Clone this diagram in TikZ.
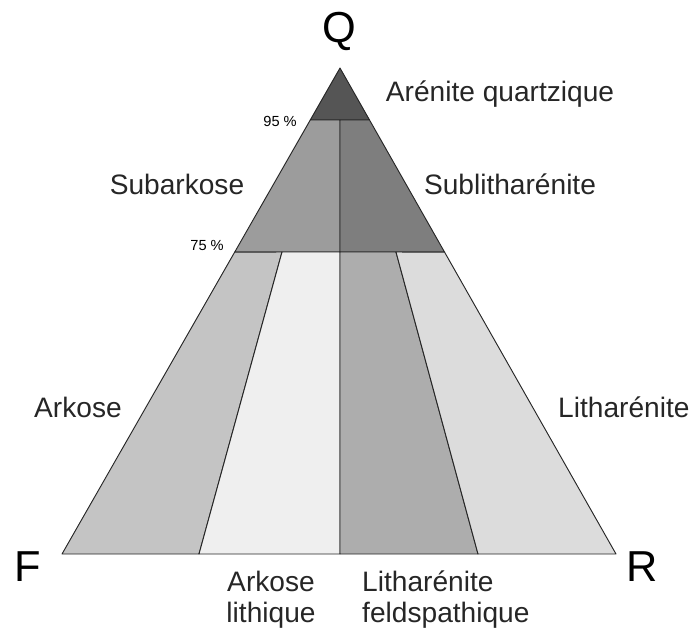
\documentclass[tikz,border=0pt]{standalone}
\usepackage{fontspec}
\setmainfont{Liberation Sans}
\usepackage{xcolor}
\usetikzlibrary{calc}

\definecolor{quartz}{HTML}{555555}
\definecolor{subark}{HTML}{9C9C9C}
\definecolor{sublith}{HTML}{7E7E7E}
\definecolor{arkose}{HTML}{C4C4C4}
\definecolor{arklith}{HTML}{EFEFEF}
\definecolor{lithfeld}{HTML}{ADADAD}
\definecolor{lithar}{HTML}{DCDCDC}

\begin{document}
\begin{tikzpicture}[x=0.03cm, y=-0.03cm, line join=round,
    zone/.style={draw=black!85, line width=0.8pt},
    lbl/.style={font=\fontsize{24}{26.5}\selectfont, text=black!85, inner sep=0pt},
    pole/.style={font=\fontsize{37}{40}\selectfont, inner sep=0pt},
    pct/.style={font=\fontsize{12.5}{14}\selectfont, inner sep=0pt}]
    \useasboundingbox (0,0) rectangle (696,633);

    % sommets du triangle QFR
    \coordinate (q) at (340,68);
    \coordinate (f) at (62,554);
    \coordinate (r) at (616,554);
    \coordinate (m) at (340,554);

    % limites 95 % et 75 %
    \coordinate (q95l) at ($(q)!0.107!(f)$);
    \coordinate (q95r) at ($(q)!0.107!(r)$);
    \coordinate (q95m) at (340,120);
    \coordinate (q75l) at ($(q)!0.379!(f)$);
    \coordinate (q75r) at ($(q)!0.379!(r)$);
    \coordinate (q75m) at (340,252);

    % limites F/R
    \coordinate (fa) at (282,252);
    \coordinate (fb) at (199,554);
    \coordinate (ra) at (396,252);
    \coordinate (rb) at (478,554);

    % zones
    \draw[zone, fill=quartz] (q) -- (q95l) -- (q95r) -- cycle;
    \draw[zone, fill=subark] (q95l) -- (q95m) -- (q75m) -- (q75l) -- cycle;
    \draw[zone, fill=sublith] (q95m) -- (q95r) -- (q75r) -- (q75m) -- cycle;
    \draw[zone, fill=arkose] (q75l) -- (fa) -- (fb) -- (f) -- cycle;
    \draw[zone, fill=arklith] (fa) -- (q75m) -- (m) -- (fb) -- cycle;
    \draw[zone, fill=lithfeld] (q75m) -- (ra) -- (rb) -- (m) -- cycle;
    \draw[zone, fill=lithar] (ra) -- (q75r) -- (r) -- (rb) -- cycle;

    % poles
    \node[pole] (nq) at (339,31) {Q};
    \node[pole] (nf) at (28,567) {F};
    \node[pole] (nr) at (642,567) {R};

    % pourcentages
    \node[pct, anchor=east] (p95) at (297,121) {95 \%};
    \node[pct, anchor=east] (p75) at (224,245) {75 \%};

    % noms des roches
    \node[lbl] (quartzique) at (500,94) {Arénite quartzique};
    \node[lbl] (subarkose) at (177,184) {Subarkose};
    \node[lbl] (sublithar) at (510,184) {Sublitharénite};
    \node[lbl] (arkose) at (78,407) {Arkose};
    \node[lbl, anchor=west] (litharenite) at (558,407) {Litharénite};
    \node[lbl, align=center, anchor=north] (arklithique) at (271,571) {Arkose\\lithique};
    \node[lbl, align=left, anchor=north west] (lithfeldsp) at (362,571) {Litharénite\\feldspathique};
\end{tikzpicture}
\end{document}
